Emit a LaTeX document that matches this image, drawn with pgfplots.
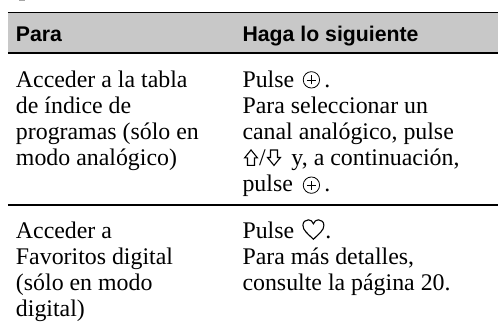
\documentclass[border=0pt]{standalone}
\usepackage{pgfplots}
\pgfplotsset{compat=1.18}
\usepackage{fontspec}
\setmainfont{Liberation Serif}
\newfontfamily\hd{Liberation Sans}
\definecolor{hdr}{RGB}{200,200,200}
\tikzset{T/.style={anchor=base west, inner sep=0pt, outer sep=0pt, font=\fontsize{23.9}{26}\selectfont},
 H/.style={anchor=base west, inner sep=0pt, outer sep=0pt, font=\hd\bfseries\fontsize{21.3}{24}\selectfont},
 C/.style={anchor=center, inner sep=0pt, outer sep=0pt}}
\newcommand{\cp}{\tikz[line width=0.8pt]{\draw (0,0) circle (8.2pt); \draw[line width=0.6pt] (-4.6pt,0)--(4.6pt,0) (0,-4.6pt)--(0,4.6pt);}}
\newcommand{\ua}{\tikz[line width=1.1pt,line join=miter]{\draw (7pt,16pt)--(0.5pt,8pt)--(3.5pt,8pt)--(3.5pt,0.5pt)--(10.5pt,0.5pt)--(10.5pt,8pt)--(13.5pt,8pt)--cycle;}}
\newcommand{\da}{\tikz[line width=1.1pt,line join=miter]{\draw (7pt,0pt)--(0.5pt,8pt)--(3.5pt,8pt)--(3.5pt,15.5pt)--(10.5pt,15.5pt)--(10.5pt,8pt)--(13.5pt,8pt)--cycle;}}
\newcommand{\hrt}{\tikz[line width=1.1pt]{\draw (11pt,0pt) .. controls (5pt,6pt) and (0.5pt,9pt) .. (0.5pt,14pt) .. controls (0.5pt,17.5pt) and (3pt,19.5pt) .. (6pt,19.5pt) .. controls (8.5pt,19.5pt) and (10pt,18pt) .. (11pt,15.5pt) .. controls (12pt,18pt) and (13.5pt,19.5pt) .. (16pt,19.5pt) .. controls (19pt,19.5pt) and (21.5pt,17.5pt) .. (21.5pt,14pt) .. controls (21.5pt,9pt) and (17pt,6pt) .. (11pt,0pt) -- cycle;}}
\begin{document}
\begin{tikzpicture}
\begin{axis}[hide axis, scale only axis, width=499pt, height=326pt,
  xmin=0, xmax=499, ymin=0, ymax=326, y dir=reverse, clip=false]
\addplot[draw=none, fill=hdr] coordinates {(8,12) (499,12) (499,53) (8,53)} -- cycle;
\addplot[black, line width=1.9pt] coordinates {(8,12.5) (499,12.5)};
\addplot[black, line width=1.9pt] coordinates {(8,53) (499,53)};
\addplot[black, line width=1.9pt] coordinates {(8,205.5) (499,205.5)};
\addplot[draw=none, fill=gray!70] coordinates {(19,0) (25,0) (25,1.5) (19,1.5)} -- cycle;
\addplot[draw=none] coordinates {(0,0) (499,326)};
\node[H] at (axis cs:16,41.7) {Para};
\node[H] at (axis cs:243,41.7) {Haga lo siguiente};
\node[T] at (axis cs:16,87.5) {Acceder a la tabla};
\node[T] at (axis cs:16,113.7) {de índice de};
\node[T] at (axis cs:16,139.9) {programas (sólo en};
\node[T] at (axis cs:16,166.1) {modo analógico)};
\node[T] at (axis cs:243,87.5) {Pulse};
\node[C] at (axis cs:312,80) {\cp};
\node[T] at (axis cs:325,87.5) {.};
\node[T] at (axis cs:243,113.7) {Para seleccionar un};
\node[T] at (axis cs:243,139.9) {canal analógico, pulse};
\node[C] at (axis cs:251.5,158) {\ua};
\node[T] at (axis cs:259.5,166.1) {/};
\node[C] at (axis cs:274.5,158) {\da};
\node[T] at (axis cs:292,166.1) {y, a continuación,};
\node[T] at (axis cs:243,192.3) {pulse};
\node[C] at (axis cs:312,185.5) {\cp};
\node[T] at (axis cs:325,192.3) {.};
\node[T] at (axis cs:16,238.5) {Acceder a};
\node[T] at (axis cs:16,264.7) {Favoritos digital};
\node[T] at (axis cs:16,291) {(sólo en modo};
\node[T] at (axis cs:16,317.2) {digital)};
\node[T] at (axis cs:243,238.5) {Pulse};
\node[C] at (axis cs:314,230) {\hrt};
\node[T] at (axis cs:326,238.5) {.};
\node[T] at (axis cs:243,264.7) {Para más detalles,};
\node[T] at (axis cs:243,291) {consulte la página 20.};
\end{axis}
\end{tikzpicture}
\end{document}
